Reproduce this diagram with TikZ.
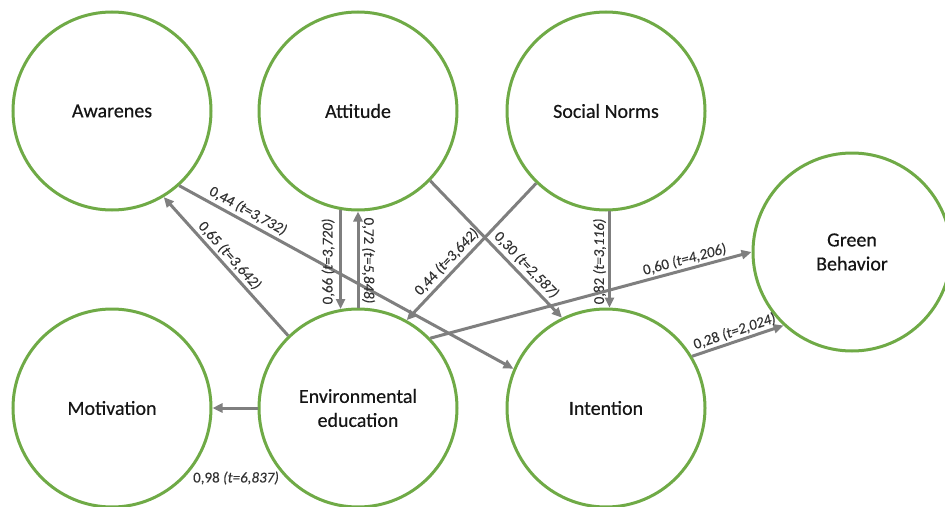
\documentclass[tikz,border=0pt]{standalone}
\usepackage{fontspec}
\setmainfont{Carlito}
\usetikzlibrary{arrows.meta}
\definecolor{cgreen}{HTML}{6FAA46}
\definecolor{cgray}{HTML}{7F7F7F}
\definecolor{ctext}{HTML}{151515}
\definecolor{clab}{HTML}{333333}
\begin{document}
\begin{tikzpicture}[x=1pt,y=-1pt,
  lv/.style={circle, draw=cgreen, line width=3pt, minimum size=198pt, inner sep=0pt, fill=white,
    font=\fontsize{20}{24}\selectfont\addfontfeature{FakeBold=0.4}, text=ctext, align=center},
  arr/.style={draw=cgray, line width=3pt, -{Triangle[length=10pt,width=9pt]}},
  lab/.style={font=\fontsize{15}{17}\selectfont\addfontfeature{FakeBold=0.2}, text=clab, inner sep=2pt}]
\useasboundingbox (0,0) rectangle (945,506);
\clip (0,0) rectangle (945,506);
\node[lv] (aw)  at (112,111) {Awarenes};
\node[lv] (att) at (358,111) {Attitude};
\node[lv] (sn)  at (606,111) {Social Norms};
\node[lv] (gb)  at (852,252) {Green\\Behavior};
\node[lv] (mot) at (112,408) {Motivation};
\node[lv] (env) at (358,408) {Environmental\\education};
\node[lv] (int) at (606,408) {Intention};

\draw[arr] (aw.-48.7) -- node[lab, sloped, pos=0.19, above=1pt] {0,44 \textit{(t=3,732)}} (int.157.9);
\draw[arr] (env.134.2) -- node[lab, sloped, pos=0.53, above=0pt] {0,65 \textit{(t=3,642)}} (aw.-59.2);
\draw[arr] (att.-100) -- node[lab, pos=0.52, rotate=90, anchor=south, outer sep=4pt] {0,66 \textit{(t=3,720)}} (env.100);
\draw[arr] (env.90) -- node[lab, pos=0.49, rotate=-90, anchor=south, outer sep=2pt] {0,72 \textit{(t=5,848)}} (att.-90);
\draw[arr] (att.-44.6) -- node[lab, sloped, pos=0.67, above=1pt] {0,30 \textit{(t=2,587)}} (int.116);
\draw[arr] (sn.-134.6) -- node[lab, sloped, pos=0.63, above=1pt] {0,44 \textit{(t=3,642)}} (env.61.5);
\draw[arr] (sn.-88) -- node[lab, pos=0.52, rotate=90, anchor=south] {0,82 \textit{(t=3,116)}} (int.88);
\draw[arr] (env.44.2) -- node[lab, sloped, pos=0.8, above=0pt] {0,60 \textit{(t=4,206)}} (gb.180);
\draw[arr] (int.31.2) -- node[lab, sloped, pos=0.5, above=0pt] {0,28 \textit{(t=2,024)}} (gb.-133.3);
\draw[arr] (env.180) -- (mot.0);
\node[lab] (l98) at (236,478) {0,98 \textit{(t=6,837)}};
\end{tikzpicture}
\end{document}
